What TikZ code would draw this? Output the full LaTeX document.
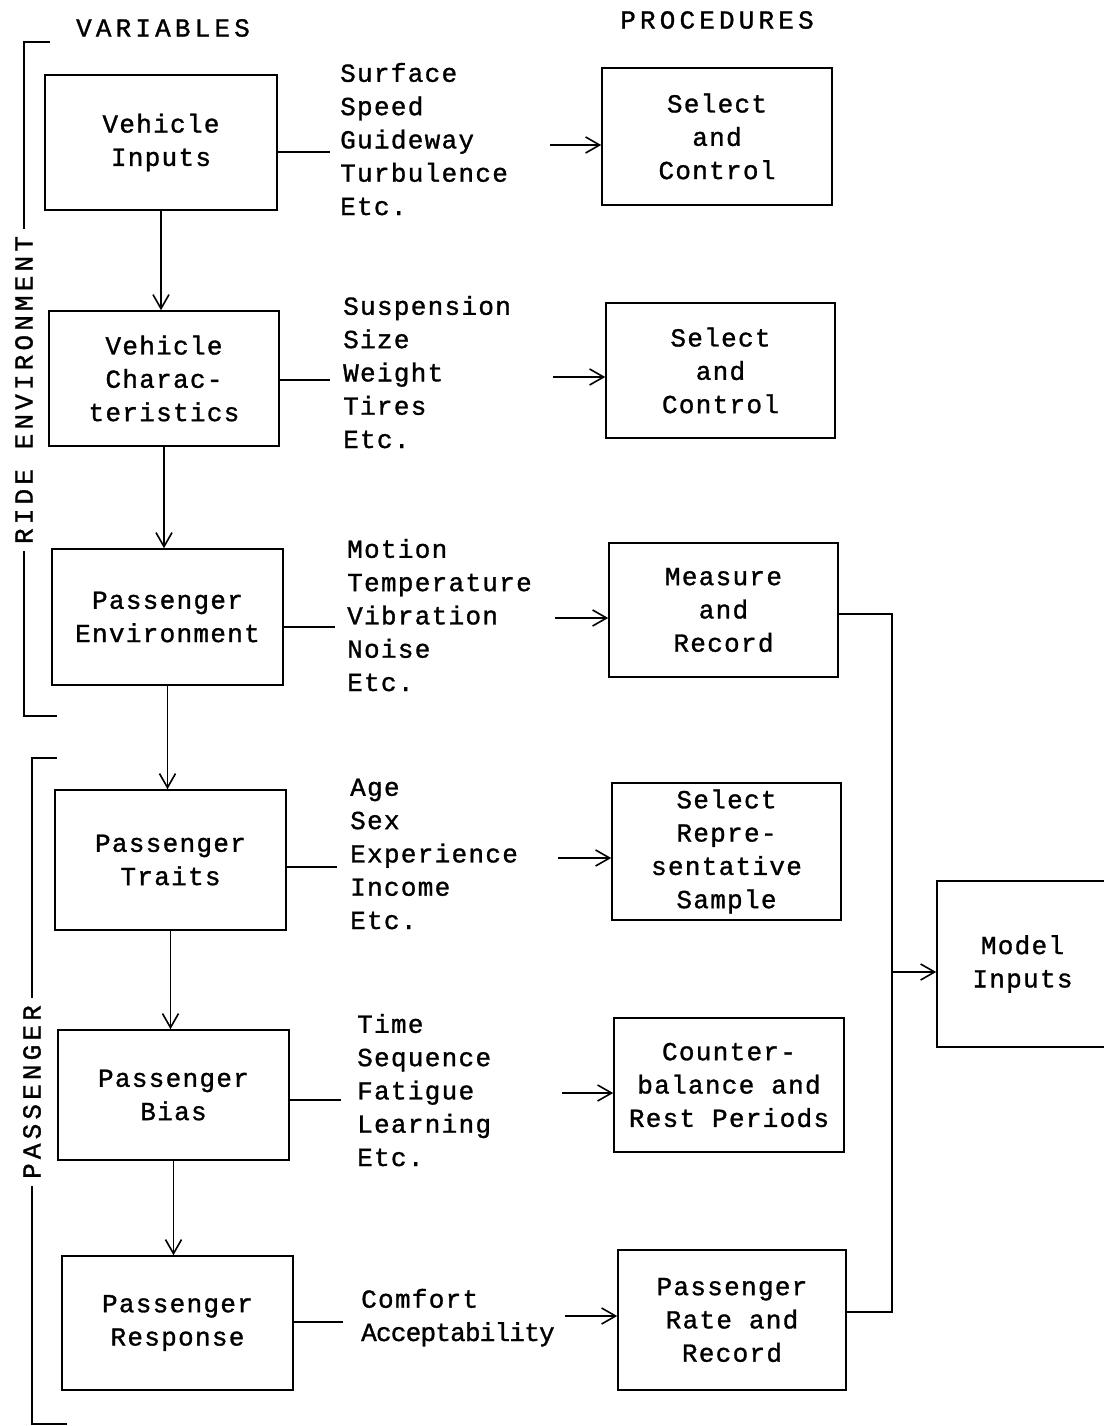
\documentclass[tikz,border=0pt]{standalone}
\usepackage{fontspec}
\setmainfont{Liberation Mono}[LetterSpace=5,FakeBold=1.2]
\usetikzlibrary{arrows.meta}
\begin{document}
\begin{tikzpicture}[x=1pt,y=-1pt,
  every node/.style={font=\fontsize{26}{33.3}\selectfont},
  box/.style={draw, line width=1.6pt, align=center, inner sep=0pt},
  lst/.style={align=left, inner sep=0pt, anchor=base west},
  hdr/.style={font=\fontsize{26}{33}\selectfont\addfontfeature{LetterSpace=16}, inner sep=0pt},
  side/.style={font=\fontsize{26}{33}\selectfont\addfontfeature{LetterSpace=16}, inner sep=7pt, rotate=90},
  ln/.style={line width=1.6pt},
  arr/.style={line width=1.6pt, -{Straight Barb[length=14pt,width=16pt,line width=1.6pt]}}]
\useasboundingbox (0,0) rectangle (1103,1426);

% headers
\node[hdr] (hv) at (163,28) {VARIABLES};
\node[hdr] (hp) at (717,20) {PROCEDURES};

% left column
\node[box, minimum width=232pt, minimum height=135pt] (l1) at (161,142.5) {Vehicle\\Inputs};
\node[box, minimum width=230pt, minimum height=135pt] (l2) at (164,378.5) {Vehicle\\Charac-\\teristics};
\node[box, minimum width=231pt, minimum height=136pt] (l3) at (167.5,617) {Passenger\\Environment};
\node[box, minimum width=231pt, minimum height=140pt] (l4) at (170.5,860) {Passenger\\Traits};
\node[box, minimum width=231pt, minimum height=130pt] (l5) at (173.5,1095) {Passenger\\Bias};
\node[box, minimum width=231pt, minimum height=134pt] (l6) at (177.5,1323) {Passenger\\Response};

% right column
\node[box, minimum width=230pt, minimum height=137pt] (r1) at (717,136.5) {Select\\and\\Control};
\node[box, minimum width=229pt, minimum height=135pt] (r2) at (720.5,370.5) {Select\\and\\Control};
\node[box, minimum width=229pt, minimum height=134pt] (r3) at (723.5,610) {Measure\\and\\Record};
\node[box, minimum width=229pt, minimum height=137pt] (r4) at (726.5,851.5) {Select\\Repre-\\sentative\\Sample};
\node[box, minimum width=230pt, minimum height=134pt] (r5) at (729,1085) {Counter-\\balance and\\Rest Periods};
\node[box, minimum width=228pt, minimum height=140pt] (r6) at (732,1320) {Passenger\\Rate and\\Record};
\node[box, minimum width=171pt, minimum height=166pt] (mi) at (1022.5,964) {Model\\Inputs};

% middle lists (anchor = baseline of last line)
\node[lst] (m1) at (340,215) {Surface\\Speed\\Guideway\\Turbulence\\Etc.};
\node[lst] (m2) at (343,448) {Suspension\\Size\\Weight\\Tires\\Etc.};
\node[lst] (m3) at (347,691) {Motion\\Temperature\\Vibration\\Noise\\Etc.};
\node[lst] (m4) at (350,929) {Age\\Sex\\Experience\\Income\\Etc.};
\node[lst] (m5) at (357,1166) {Time\\Sequence\\Fatigue\\Learning\\Etc.};
\node[lst] (m6) at (361,1341) {Comfort\\{\addfontfeature{LetterSpace=-3}Acceptability}};

% vertical arrows
\draw[arr] (l1.south) -- (l1.south |- l2.north);
\draw[arr] (l2.south) -- (l2.south |- l3.north);
\draw[arr] (l3.south) -- (l3.south |- l4.north);
\draw[arr] (l4.south) -- (l4.south |- l5.north);
\draw[arr] (l5.south) -- (l5.south |- l6.north);

% lines from boxes to lists
\draw[ln] (l1.east |- 0,152) -- ([xshift=-10pt]m1.west |- 0,152);
\draw[ln] (l2.east |- 0,380) -- ([xshift=-13pt]m2.west |- 0,380);
\draw[ln] (l3.east |- 0,627) -- ([xshift=-12pt]m3.west |- 0,627);
\draw[ln] (l4.east |- 0,867) -- ([xshift=-13pt]m4.west |- 0,867);
\draw[ln] (l5.east |- 0,1100) -- ([xshift=-16pt]m5.west |- 0,1100);
\draw[ln] (l6.east |- 0,1322) -- ([xshift=-18pt]m6.west |- 0,1322);

% arrows from lists to procedures
\coordinate (a1) at (550,145);
\coordinate (a2) at (553,377);
\coordinate (a3) at (555,618);
\coordinate (a4) at (558,858);
\coordinate (a5) at (562,1093);
\coordinate (a6) at (565,1316);
\draw[arr] (a1) -- (r1.west |- a1);
\draw[arr] (a2) -- (r2.west |- a2);
\draw[arr] (a3) -- (r3.west |- a3);
\draw[arr] (a4) -- (r4.west |- a4);
\draw[arr] (a5) -- (r5.west |- a5);
\draw[arr] (a6) -- (r6.west |- a6);

% bus to model inputs
\coordinate (bt) at (892,614);
\coordinate (bb) at (892,1312);
\coordinate (bm) at (892,972);
\draw[ln] (r3.east |- bt) -- (bt) -- (bb) -- (r6.east |- bb);
\draw[arr] (bm) -- (mi.west |- bm);

% side brackets
\node[side] (ride) at (24,390) {RIDE ENVIRONMENT};
\coordinate (rt) at (50,42);
\coordinate (rb) at (57,716);
\draw[ln] (rt) -- (24,42) -- (ride.east);
\draw[ln] (ride.west) -- (24,716) -- (rb);
\node[side] (pass) at (32,1092) {PASSENGER};
\coordinate (pt) at (57,758);
\coordinate (pb) at (67,1424);
\draw[ln] (pt) -- (32,758) -- (pass.east);
\draw[ln] (pass.west) -- (32,1424) -- (pb);
\end{tikzpicture}
\end{document}
